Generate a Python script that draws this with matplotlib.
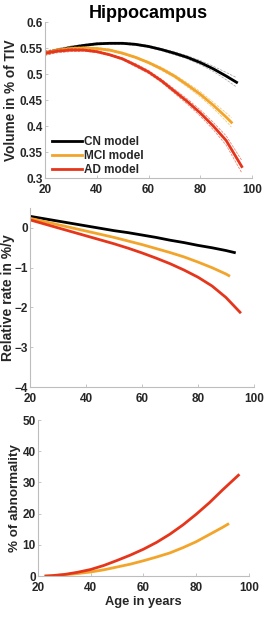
import numpy as np
import matplotlib
matplotlib.use("Agg")
import matplotlib.pyplot as plt

plt.rcParams['font.family'] = ['Liberation Sans', 'DejaVu Sans']
plt.rcParams['font.weight'] = 'bold'

# --- data ---
age_cn = [20, 25, 30, 35, 40, 45, 50, 55, 60, 65, 70, 75, 80, 85, 90, 94]
vol_cn = [0.540, 0.546, 0.551, 0.555, 0.558, 0.559, 0.559, 0.557, 0.553,
          0.547, 0.540, 0.532, 0.522, 0.510, 0.496, 0.484]
ci_cn = [0.004, 0.003, 0.003, 0.002, 0.002, 0.002, 0.002, 0.002, 0.002,
         0.002, 0.003, 0.003, 0.004, 0.005, 0.007, 0.009]

age_mci = [20, 25, 30, 35, 40, 45, 50, 55, 60, 65, 70, 75, 80, 85, 90, 92]
vol_mci = [0.540, 0.546, 0.549, 0.550, 0.549, 0.546, 0.540, 0.532, 0.522,
           0.510, 0.496, 0.479, 0.461, 0.440, 0.417, 0.407]
ci_mci = [0.004, 0.003, 0.003, 0.002, 0.002, 0.002, 0.002, 0.002, 0.002,
          0.003, 0.003, 0.004, 0.005, 0.006, 0.008, 0.009]

age_ad = [20, 25, 30, 35, 40, 45, 50, 55, 60, 65, 70, 75, 80, 85, 90, 96]
vol_ad = [0.540, 0.544, 0.546, 0.546, 0.543, 0.537, 0.529, 0.517, 0.504,
          0.487, 0.467, 0.447, 0.425, 0.400, 0.372, 0.322]
ci_ad = [0.004, 0.003, 0.003, 0.002, 0.002, 0.002, 0.002, 0.003, 0.003,
         0.003, 0.004, 0.005, 0.006, 0.007, 0.009, 0.012]

rate_age_cn = [20, 25, 30, 35, 40, 45, 50, 55, 60, 65, 70, 75, 80, 85, 90, 93]
rate_cn = [0.29, 0.23, 0.17, 0.11, 0.05, -0.01, -0.07, -0.12, -0.18,
           -0.24, -0.31, -0.37, -0.44, -0.50, -0.57, -0.62]
rate_age_mci = [20, 25, 30, 35, 40, 45, 50, 55, 60, 65, 70, 75, 80, 85, 90, 91]
rate_mci = [0.24, 0.16, 0.08, 0.00, -0.08, -0.16, -0.24, -0.33, -0.42,
            -0.52, -0.62, -0.73, -0.86, -1.00, -1.16, -1.20]
rate_age_ad = [20, 25, 30, 35, 40, 45, 50, 55, 60, 65, 70, 75, 80, 85, 90, 95]
rate_ad = [0.20, 0.10, 0.00, -0.10, -0.20, -0.30, -0.40, -0.51, -0.63,
           -0.76, -0.90, -1.06, -1.24, -1.46, -1.75, -2.12]

abn_age_mci = [23, 25, 30, 35, 40, 45, 50, 55, 60, 65, 70, 75, 80, 85, 90, 92]
abn_mci = [0.0, 0.05, 0.4, 0.8, 1.3, 2.0, 2.9, 3.8, 4.9, 6.1, 7.4, 9.1,
           11.0, 13.3, 15.6, 16.6]
abn_age_ad = [23, 25, 30, 35, 40, 45, 50, 55, 60, 65, 70, 75, 80, 85, 90, 96]
abn_ad = [0.0, 0.1, 0.5, 1.2, 2.1, 3.4, 5.0, 6.7, 8.6, 10.8, 13.4, 16.4,
          19.8, 23.5, 27.6, 32.3]

c_cn = 'black'
c_mci = '#f2a52a'
c_ad = '#e5361c'
spine_c = '#bdbdbd'
text_c = '#262626'


def style(ax):
    for s in ['top', 'right']:
        ax.spines[s].set_visible(False)
    for s in ['left', 'bottom']:
        ax.spines[s].set_color(spine_c)
        ax.spines[s].set_linewidth(0.8)
    ax.tick_params(direction='in', length=2, width=0.6, color=spine_c,
                   labelsize=8.5, labelcolor=text_c)
    ax.tick_params(axis='y', pad=1.5)
    ax.tick_params(axis='x', pad=4.5)
    for lab in ax.get_xticklabels() + ax.get_yticklabels():
        lab.set_fontweight('bold')
    ax.set_xlim(20, 100)
    ax.set_xticks([20, 40, 60, 80, 100])


fig = plt.figure(figsize=(2.64, 6.36), dpi=100)

# panel 1: volume
ax1 = fig.add_axes([0.170, 0.7201, 0.785, 0.2453])
for a, v, ci, c, name in [(age_cn, vol_cn, ci_cn, c_cn, 'CN model'),
                          (age_mci, vol_mci, ci_mci, c_mci, 'MCI model'),
                          (age_ad, vol_ad, ci_ad, c_ad, 'AD model')]:
    a = np.array(a)
    v = np.array(v)
    ci = np.array(ci)
    lc = '#777777' if c == c_cn else c
    ax1.plot(a, v + ci, '--', color=lc, lw=0.5, alpha=0.7)
    ax1.plot(a, v - ci, '--', color=lc, lw=0.5, alpha=0.7)
    ax1.plot(a, v, '-', color=c, lw=2, label=name)
ax1.set_ylim(0.3, 0.6)
ax1.set_yticks([0.3, 0.35, 0.4, 0.45, 0.5, 0.55, 0.6])
ax1.set_yticklabels(['0.3', '0.35', '0.4', '0.45', '0.5', '0.55', '0.6'])
style(ax1)
ax1.set_title('Hippocampus', fontsize=13, fontweight='bold', color='black', pad=3)
ax1.set_ylabel('Volume in % of TIV', fontsize=9.8, fontweight='bold',
               color=text_c, labelpad=1)
leg = ax1.legend(loc='lower left', frameon=False, fontsize=8.5, handlelength=2.6,
                 handletextpad=0.1, labelspacing=0.2, borderaxespad=0.0,
                 bbox_to_anchor=(0.01, -0.02))
for t in leg.get_texts():
    t.set_fontweight('bold')
    t.set_color(text_c)

# panel 2: relative rate
ax2 = fig.add_axes([0.114, 0.3915, 0.848, 0.2815])
ax2.plot(rate_age_cn, rate_cn, color=c_cn, lw=2)
ax2.plot(rate_age_mci, rate_mci, color=c_mci, lw=2)
ax2.plot(rate_age_ad, rate_ad, color=c_ad, lw=2)
ax2.set_ylim(-4, 0.5)
ax2.set_yticks([-4, -3, -2, -1, 0])
style(ax2)
ax2.set_ylabel('Relative rate in %/y', fontsize=10, fontweight='bold',
               color=text_c, labelpad=0)

# panel 3: abnormality
ax3 = fig.add_axes([0.144, 0.0943, 0.799, 0.2453])
ax3.plot(abn_age_mci, abn_mci, color=c_mci, lw=2)
ax3.plot(abn_age_ad, abn_ad, color=c_ad, lw=2)
ax3.set_ylim(0, 50)
ax3.set_yticks([0, 10, 20, 30, 40, 50])
style(ax3)
ax3.set_ylabel('% of abnormality', fontsize=9.6, fontweight='bold',
               color=text_c, labelpad=1)
ax3.set_xlabel('Age in years', fontsize=9.3, fontweight='bold',
               color=text_c, labelpad=1)

fig.savefig('out.png', dpi=100)
